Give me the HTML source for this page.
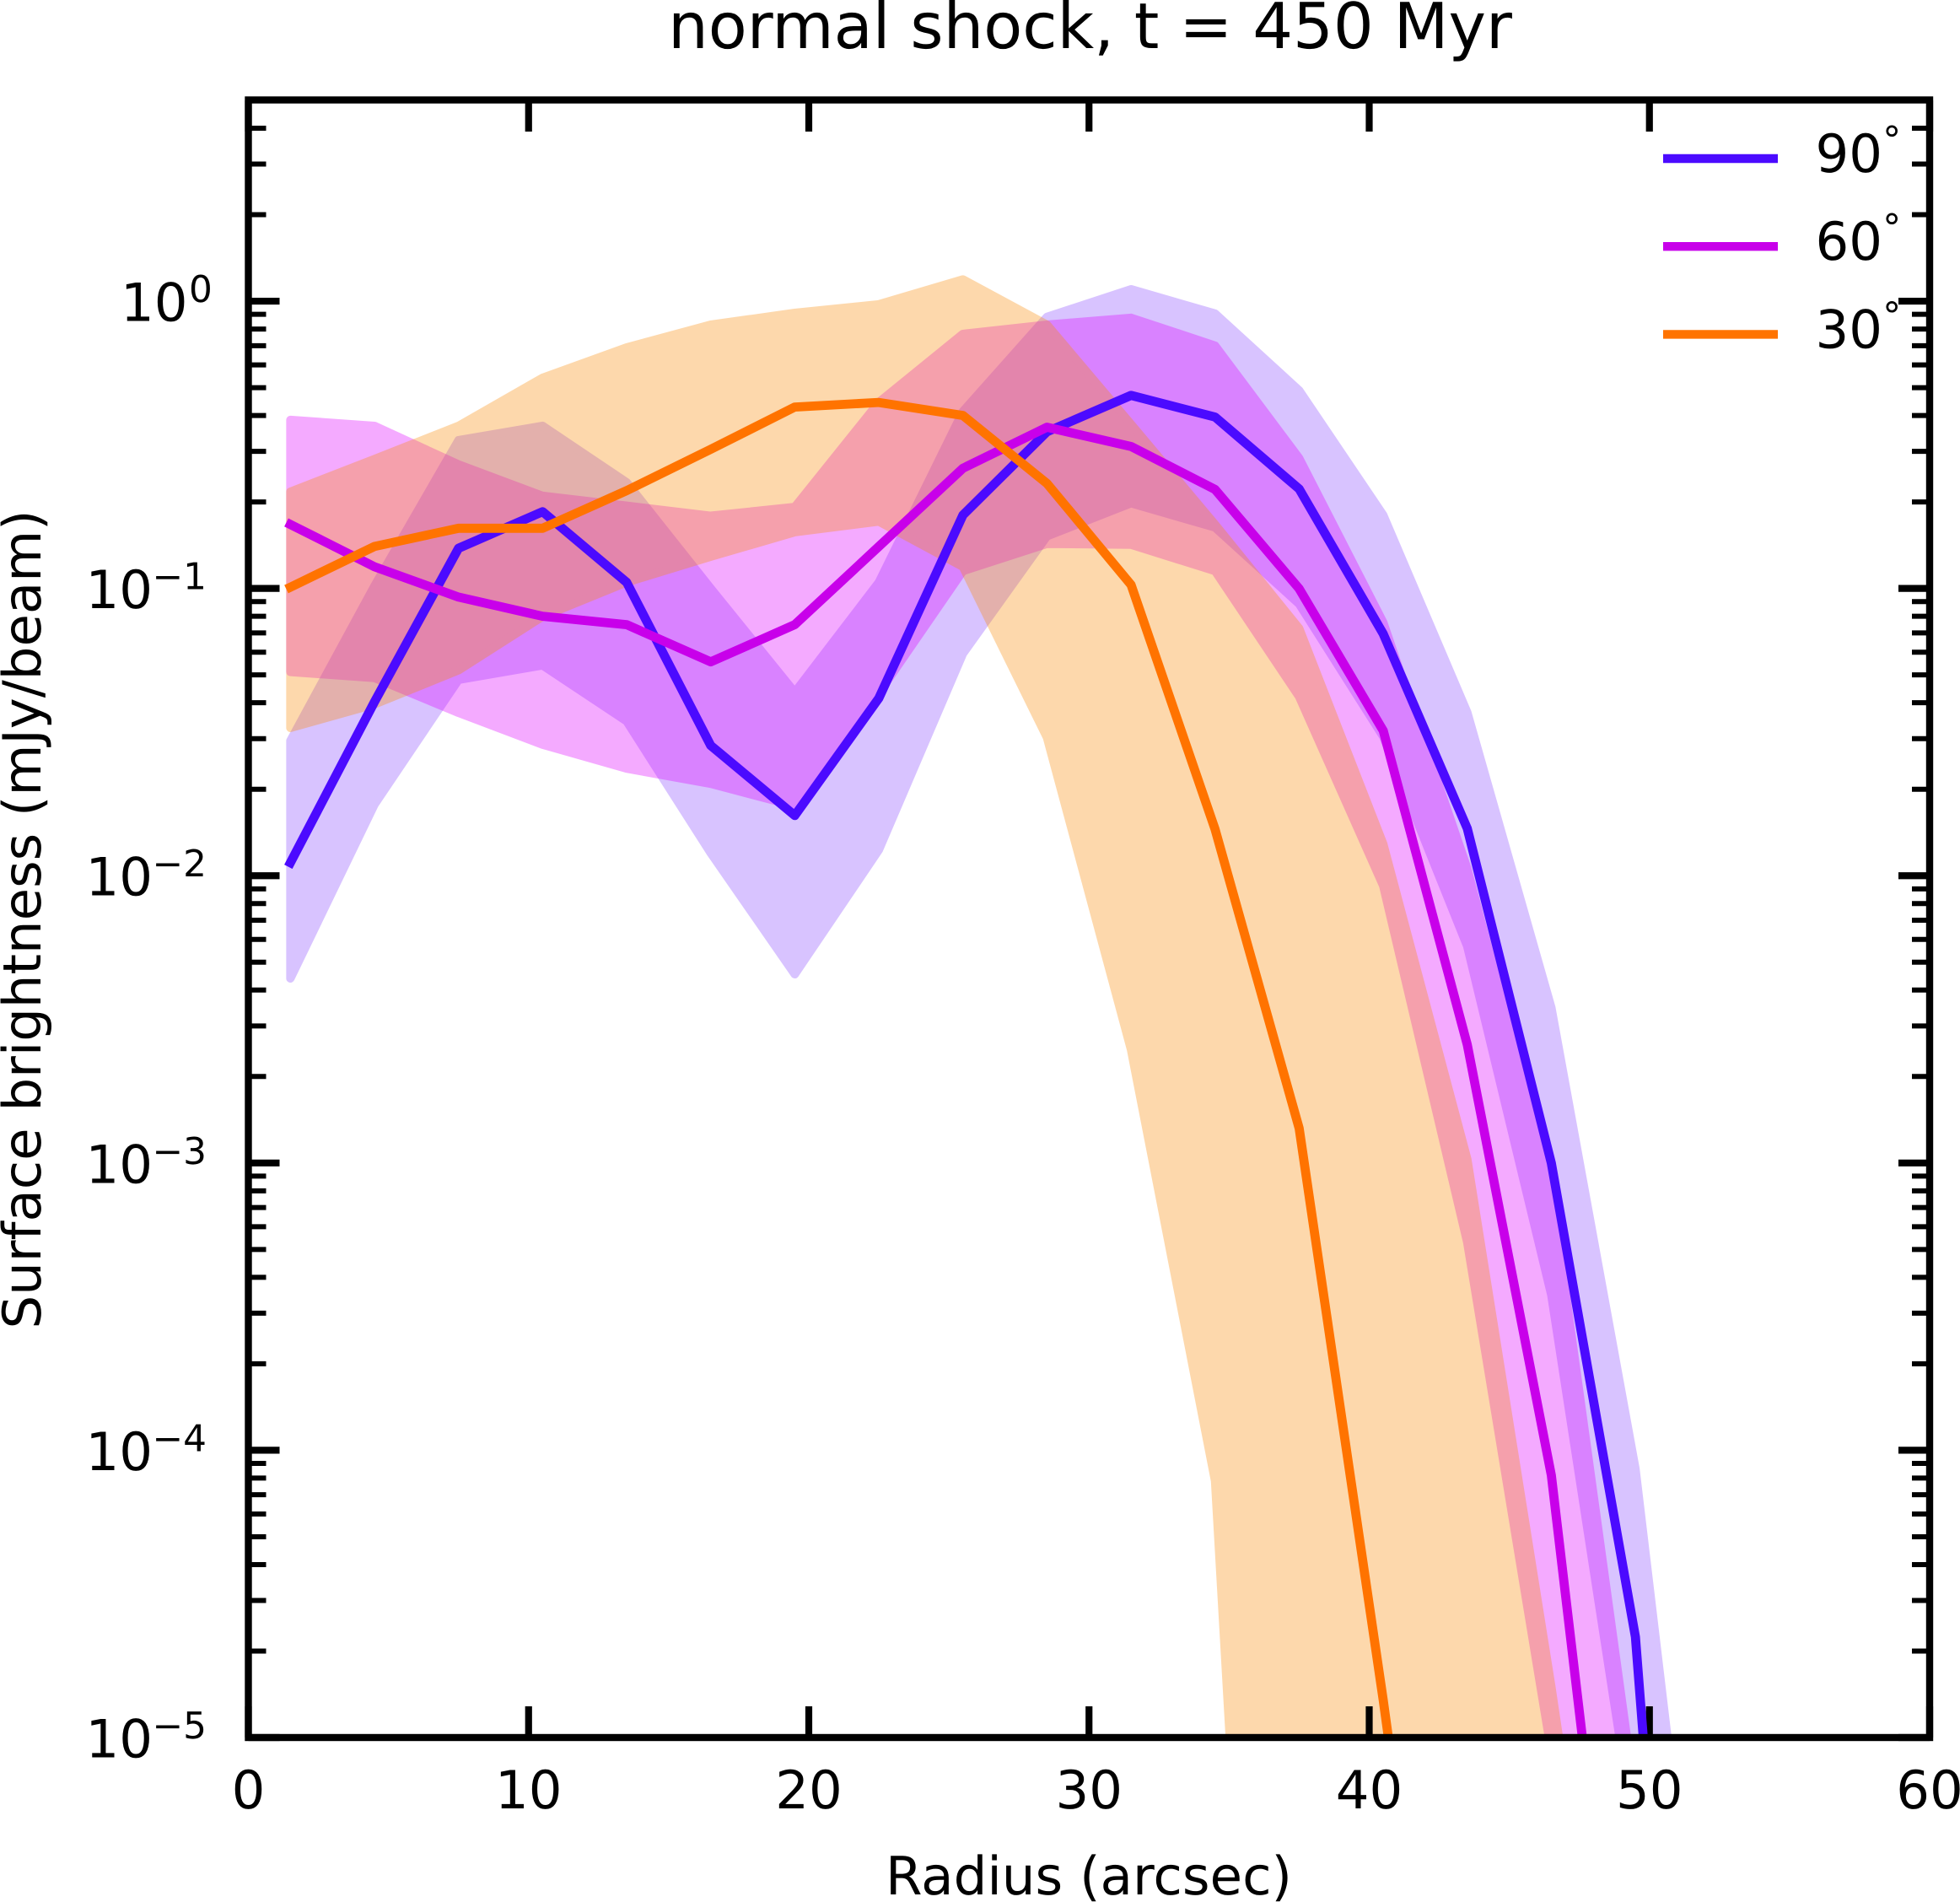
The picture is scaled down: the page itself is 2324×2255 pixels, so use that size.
<!DOCTYPE html>
<html lang="en">
<head>
<meta charset="utf-8">
<title>normal shock, t = 450 Myr</title>
<style>
html,body{margin:0;padding:0;background:#fff;width:2324px;height:2255px;overflow:hidden}
svg{display:block}
text{font-family:"DejaVu Sans","Liberation Sans",sans-serif;fill:#000;text-rendering:geometricPrecision}
</style>
</head>
<body>
<svg id="chart" xmlns="http://www.w3.org/2000/svg" width="2324" height="2255" viewBox="0 0 2324 2255">
  <defs><clipPath id="plot-clip"><rect x="294.5" y="119" width="1993.5" height="1941"/></clipPath></defs>
  <rect x="0" y="0" width="2324" height="2255" fill="#fff"/>
  <g id="bands" clip-path="url(#plot-clip)"></g>
  <g id="ticks"></g>
  <g id="lines" clip-path="url(#plot-clip)"></g>
  <rect x="294.5" y="118.5" width="1993.5" height="1941.5" fill="none" stroke="#000" stroke-width="8.4"/>
  <g id="tick-labels"></g>
  <text x="1292.5" y="57" font-size="75.2" text-anchor="middle">normal shock, t = 450 Myr</text>
  <text x="1291" y="2246" font-size="62.7" text-anchor="middle">Radius (arcsec)</text>
  <text transform="translate(48,1090) rotate(-90)" font-size="62.5" text-anchor="middle">Surface brightness (mJy/beam)</text>
  <g id="legend"></g>
</svg>
<script>
const radii = [1.5,4.5,7.5,10.5,13.5,16.5,19.5,22.5,25.5,28.5,31.5,34.5,37.5,40.5,43.5,46.5,49.5,52.5];

const line90 = [1.11e-2,4.03e-2,1.38e-1,1.85e-1,1.05e-1,2.84e-2,1.62e-2,4.15e-2,1.80e-1,3.51e-1,4.70e-1,3.95e-1,2.22e-1,6.95e-2,1.46e-2,9.98e-4,2.24e-5,4e-9];
const upper90 = [2.95e-2,1.02e-1,3.28e-1,3.68e-1,2.34e-1,1.00e-1,4.35e-2,1.05e-1,4.13e-1,8.81e-1,1.10,9.05e-1,4.89e-1,1.80e-1,3.70e-2,3.47e-3,8.63e-5,3.0e-7];
const lower90 = [4.39e-3,1.77e-2,4.81e-2,5.40e-2,3.45e-2,1.20e-2,4.54e-3,1.23e-2,5.93e-2,1.52e-1,1.98e-1,1.63e-1,8.83e-2,3.05e-2,5.68e-3,3.47e-4,4.4e-6,2e-8];

const line60 = [1.67e-1,1.19e-1,9.33e-2,8.00e-2,7.48e-2,5.55e-2,7.48e-2,1.40e-1,2.62e-1,3.64e-1,3.12e-1,2.21e-1,9.98e-2,3.20e-2,2.58e-3,8.18e-5,2.75e-7,1e-9];
const upper60 = [3.86e-1,3.68e-1,2.70e-1,2.10e-1,1.94e-1,1.79e-1,1.92e-1,4.45e-1,7.69e-1,8.28e-1,8.75e-1,7.00e-1,2.84e-1,7.62e-2,1.06e-2,8.09e-4,6.1e-6,3e-8];
const lower60 = [5.12e-2,4.88e-2,3.69e-2,2.86e-2,2.36e-2,2.09e-2,1.75e-2,4.32e-2,1.15e-1,1.43e-1,1.42e-1,1.15e-1,4.20e-2,9.23e-3,5.29e-4,8.9e-6,5e-8,1e-9];

const line30 = [1.01e-1,1.40e-1,1.62e-1,1.62e-1,2.19e-1,3.05e-1,4.28e-1,4.44e-1,4.00e-1,2.32e-1,1.03e-1,1.45e-2,1.32e-3,1.35e-5,1e-7,5e-9,1e-10,1e-11];
const upper30 = [2.17e-1,2.82e-1,3.68e-1,5.41e-1,6.90e-1,8.28e-1,9.10e-1,9.75e-1,1.19,8.28e-1,3.73e-1,1.67e-1,7.26e-2,1.29e-2,1.03e-3,1.50e-5,1.6e-7,1e-8];
const lower30 = [3.27e-2,3.95e-2,5.19e-2,7.98e-2,1.05e-1,1.29e-1,1.57e-1,1.71e-1,1.19e-1,3.03e-2,2.48e-3,7.82e-5,6e-10,1e-11,1e-12,1e-12,1e-12,1e-12];

const xTickValues = [0,10,20,30,40,50,60];
const xTickLabels = ["0","10","20","30","40","50","60"];
const yDecades = [0,-1,-2,-3,-4,-5];
const yExponentLabels = ["0","\u22121","\u22122","\u22123","\u22124","\u22125"];
const yMinorMultipliers = [2,3,4,5,6,7,8,9];
const legendLabels = ["90","60","30"];

const SVG_NS = "http://www.w3.org/2000/svg";
const X_LEFT = 294.5, X_RIGHT = 2288, Y_TOP = 119, Y_BOTTOM = 2060;
const X_MIN = 0, X_MAX = 60, Y_MIN = 1e-5, Y_MAX = 5;

function xScale(v){ return X_LEFT + (v - X_MIN) / (X_MAX - X_MIN) * (X_RIGHT - X_LEFT); }
function yScale(v){ return Y_BOTTOM - (Math.log10(v) - Math.log10(Y_MIN)) / (Math.log10(Y_MAX) - Math.log10(Y_MIN)) * (Y_BOTTOM - Y_TOP); }
function make(tag, attrs, parent){
  const el = document.createElementNS(SVG_NS, tag);
  for (const k in attrs) el.setAttribute(k, attrs[k]);
  parent.appendChild(el);
  return el;
}
function pointsFor(xs, ys){ return xs.map((x,i) => xScale(x).toFixed(2) + " " + yScale(ys[i]).toFixed(2)); }

const bandsG = document.getElementById("bands");
const linesG = document.getElementById("lines");
const ticksG = document.getElementById("ticks");
const labelsG = document.getElementById("tick-labels");
const legendG = document.getElementById("legend");

function drawBand(upper, lower, color, name){
  const top = pointsFor(radii, upper);
  const bottom = pointsFor(radii, lower).reverse();
  const el = make("path", {d:"M" + top.concat(bottom).join("L") + "Z", fill:color, stroke:color, "stroke-width":10, "stroke-linejoin":"round", opacity:0.33}, bandsG);
  
  
}
function drawLine(values, color, name){
  const el = make("path", {d:"M" + pointsFor(radii, values).join("L"), fill:"none", stroke:color, "stroke-width":10.8, "stroke-linejoin":"round", "stroke-linecap":"square"}, linesG);
  
  
}

const COLOR_90 = "#4b0aff", COLOR_60 = "#c800ea", COLOR_30 = "#ff7300";
const BAND_90 = "#8a4cff", BAND_60 = "#de00ff", BAND_30 = "#fa8c08";

drawBand(upper90, lower90, BAND_90, "band-90-deg");
drawBand(upper60, lower60, BAND_60, "band-60-deg");
drawBand(upper30, lower30, BAND_30, "band-30-deg");
drawLine(line90, COLOR_90, "line-90-deg");
drawLine(line60, COLOR_60, "line-60-deg");
drawLine(line30, COLOR_30, "line-30-deg");

const MAJOR_LEN = 37, MINOR_LEN = 21;
xTickValues.forEach((v,i) => {
  const x = xScale(v);
  const bottomTick = make("line", {x1:x, x2:x, y1:Y_BOTTOM, y2:Y_BOTTOM - MAJOR_LEN, stroke:"#000", "stroke-width":8.2}, ticksG);
  
  
  const topTick = make("line", {x1:x, x2:x, y1:Y_TOP, y2:Y_TOP + MAJOR_LEN, stroke:"#000", "stroke-width":8.2}, ticksG);
  
  
  const label = make("text", {x:x, y:2144, "font-size":62.5, "text-anchor":"middle"}, labelsG);
  label.textContent = xTickLabels[i];
  
  
});

yDecades.forEach((d,i) => {
  const y = yScale(Math.pow(10,d));
  const leftTick = make("line", {x1:X_LEFT, x2:X_LEFT + MAJOR_LEN, y1:y, y2:y, stroke:"#000", "stroke-width":8.2}, ticksG);
  
  
  const rightTick = make("line", {x1:X_RIGHT, x2:X_RIGHT - MAJOR_LEN, y1:y, y2:y, stroke:"#000", "stroke-width":8.2}, ticksG);
  
  
  yMinorMultipliers.forEach(m => {
    const v = m * Math.pow(10,d);
    if (v > Y_MAX) return;
    const ym = yScale(v);
    const leftMinor = make("line", {x1:X_LEFT, x2:X_LEFT + MINOR_LEN, y1:ym, y2:ym, stroke:"#000", "stroke-width":6}, ticksG);
    
    
    const rightMinor = make("line", {x1:X_RIGHT, x2:X_RIGHT - MINOR_LEN, y1:ym, y2:ym, stroke:"#000", "stroke-width":6}, ticksG);
    
    
  });
  const baseX = d === 0 ? 143 : 101.5;
  const expX = d === 0 ? 224 : 180.5;
  const base = make("text", {x:baseX, y:y + 23.5, "font-size":62.5}, labelsG);
  base.textContent = "10";
  
  
  const exp = make("text", {x:expX, y:y + 1, "font-size":43.75}, labelsG);
  exp.textContent = yExponentLabels[i];
  
  
});

[COLOR_90, COLOR_60, COLOR_30].forEach((color,i) => {
  const y = 188 + i * 104.2;
  const swatch = make("line", {x1:1972, x2:2108, y1:y, y2:y, stroke:color, "stroke-width":10.4}, legendG);
  
  
  const label = make("text", {x:2152.5, y:y + 16, "font-size":62.5}, legendG);
  label.textContent = legendLabels[i];
  
  
  const ring = make("text", {x:2229.5, y:y - 19, "font-size":43.75}, legendG);
  ring.textContent = "\u2218";
  
  
});
</script>
</body>
</html>
